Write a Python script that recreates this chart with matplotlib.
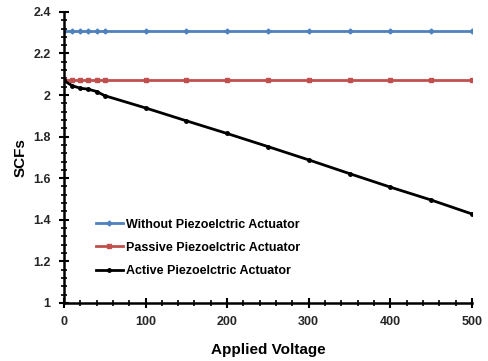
import matplotlib
matplotlib.use("Agg")
import matplotlib.pyplot as plt
from matplotlib.ticker import MultipleLocator

plt.rcParams['font.family'] = ['Liberation Sans', 'DejaVu Sans']
plt.rcParams['font.weight'] = 'bold'

voltage = [0, 10, 20, 30, 40, 50, 100, 150, 200, 250, 300, 350, 400, 450, 500]
scf_without = [2.31] * len(voltage)
scf_passive = [2.07] * len(voltage)
scf_active = [2.07, 2.045, 2.033, 2.028, 2.017, 1.997, 1.938, 1.876, 1.815,
              1.752, 1.688, 1.622, 1.557, 1.495, 1.428]

fig = plt.figure(figsize=(4.88, 3.61), dpi=100)
ax = fig.add_axes([0.131, 0.161, 0.836, 0.806])

ax.plot(voltage, scf_without, color='#4F81BD', lw=2, marker='D', ms=2.5,
        label='Without Piezoelctric Actuator')
ax.plot(voltage, scf_passive, color='#C0504D', lw=2, marker='s', ms=3,
        label='Passive Piezoelctric Actuator')
ax.plot(voltage, scf_active, color='black', lw=2, marker='o', ms=2.5,
        label='Active Piezoelctric Actuator')

ax.set_xlim(0, 500)
ax.set_ylim(1, 2.4)
ax.xaxis.set_major_locator(MultipleLocator(100))
ax.xaxis.set_minor_locator(MultipleLocator(20))
ax.yaxis.set_minor_locator(MultipleLocator(0.04))
ax.set_yticks([1, 1.2, 1.4, 1.6, 1.8, 2, 2.2, 2.4])
ax.set_yticklabels(['1', '1.2', '1.4', '1.6', '1.8', '2', '2.2', '2.4'])

for s in ['top', 'right']:
    ax.spines[s].set_visible(False)
for s in ['left', 'bottom']:
    ax.spines[s].set_linewidth(1.8)
ax.tick_params(which='major', direction='inout', length=7, width=1.5,
               labelsize=9, colors='black', pad=6)
ax.tick_params(which='minor', direction='inout', length=4, width=1.2)
for lbl in ax.get_xticklabels() + ax.get_yticklabels():
    lbl.set_color('#262626')

ax.set_xlabel('Applied Voltage', fontsize=11, fontweight='bold', labelpad=11)
ax.set_ylabel('SCFs', fontsize=11, fontweight='bold', labelpad=4)

ax.legend(loc='lower left', bbox_to_anchor=(0.05, 0.05), frameon=False,
          fontsize=9, handlelength=2.2, handletextpad=0.2, labelspacing=0.9)

fig.savefig('out.png', dpi=100)
